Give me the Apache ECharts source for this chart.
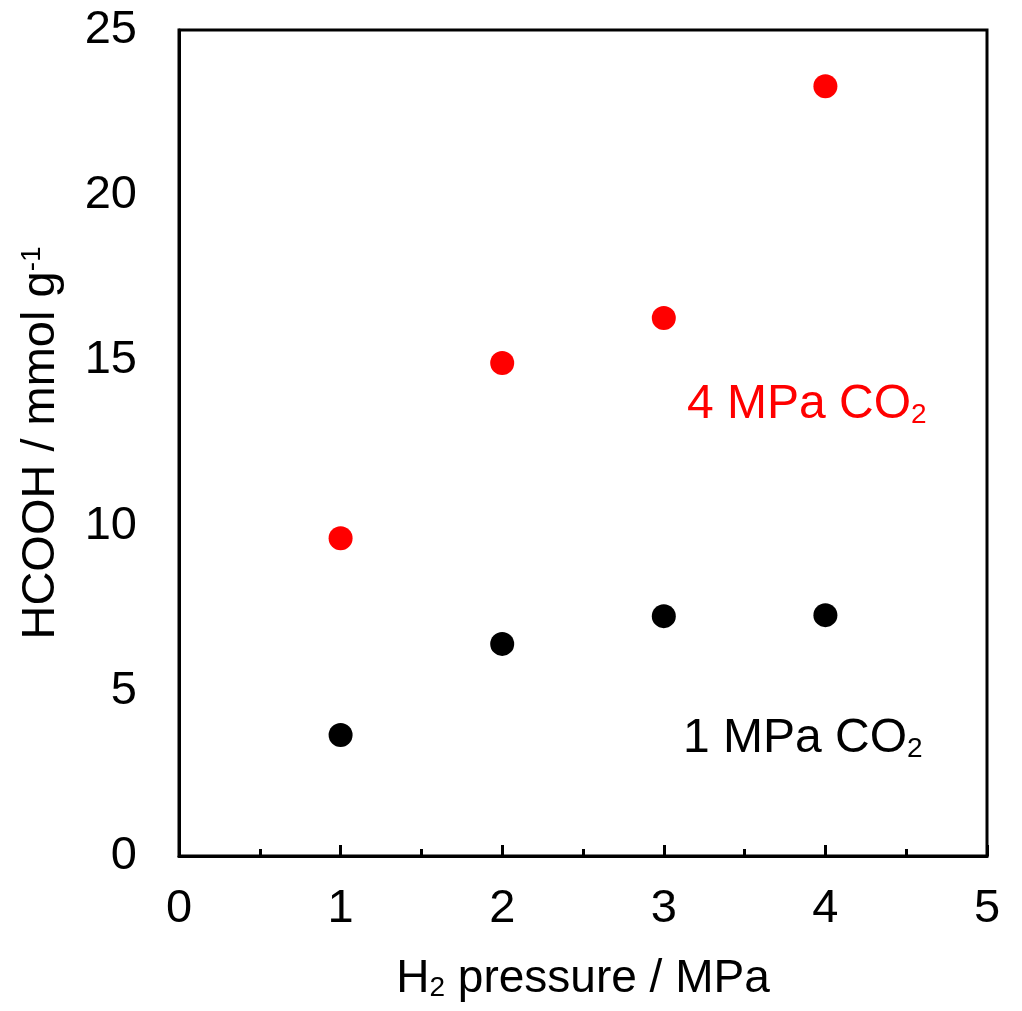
<!DOCTYPE html>
<html>
<head>
<meta charset="utf-8">
<script src="https://cdn.jsdelivr.net/npm/echarts@6/dist/echarts.min.js"></script>
<style>
html,body{margin:0;padding:0;background:#fff;}
#chart{width:1022px;height:1011px;}
</style>
</head>
<body>
<div id="chart"></div>
<script>
const h2Pressure = [1, 2, 3, 4];
const co2High = [9.62, 14.92, 16.28, 23.30];
const co2Low = [3.66, 6.42, 7.26, 7.29];
const xTicks = [0, 1, 2, 3, 4, 5];
const yTicks = [0, 5, 10, 15, 20, 25];

const FONT = '"Liberation Sans", Arial, sans-serif';
const chart = echarts.init(document.getElementById('chart'));

chart.setOption({
  animation: false,
  backgroundColor: '#fff',
  grid: { left: 179, top: 30, right: 35, bottom: 155, show: true, borderColor: '#000', borderWidth: 3, containLabel: false, outerBoundsMode: 'none' },
  xAxis: {
    type: 'value', min: 0, max: 5, interval: 1,
    axisLine: { show: true, lineStyle: { color: '#000', width: 3 } },
    axisTick: { show: true, inside: true, length: 11, lineStyle: { color: '#000', width: 3 } },
    minorTick: { show: true, splitNumber: 2, length: 7, lineStyle: { color: '#000', width: 3 } },
    splitLine: { show: false },
    axisLabel: { color: '#000', fontSize: 47, fontFamily: FONT, margin: 30,
      formatter: v => xTicks.includes(v) ? String(v) : '' },
    name: '{n|H}{s|2}{n| pressure / MPa}',
    nameLocation: 'middle', nameGap: 100,
    nameTextStyle: { rich: { n: { fontSize: 46, fontFamily: FONT, color: '#000' }, s: { fontSize: 28, fontFamily: FONT, color: '#000', verticalAlign: 'bottom' } } }
  },
  yAxis: {
    type: 'value', min: 0, max: 25, interval: 5,
    axisLine: { show: true, lineStyle: { color: '#000', width: 3 } },
    axisTick: { show: false },
    splitLine: { show: false },
    axisLabel: { color: '#000', fontSize: 47, fontFamily: FONT, margin: 42,
      formatter: v => yTicks.includes(v) ? String(v) : '' },
    name: '{n|HCOOH / mmol g}{p|-1}',
    nameLocation: 'middle', nameGap: 114, nameRotate: 90,
    nameTextStyle: { rich: { n: { fontSize: 47, fontFamily: FONT, color: '#000' }, p: { fontSize: 28, fontFamily: FONT, color: '#000', verticalAlign: 'top' } } }
  },
  graphic: [
    { type: 'text', left: 687, top: 381, style: { text: '{n|4 MPa CO}{s|2}', rich: { n: { fontSize: 48, fontFamily: FONT, fill: '#ff0000' }, s: { fontSize: 28, fontFamily: FONT, fill: '#ff0000', verticalAlign: 'bottom' } } } },
    { type: 'text', left: 683, top: 715, style: { text: '{n|1 MPa CO}{s|2}', rich: { n: { fontSize: 48, fontFamily: FONT, fill: '#000' }, s: { fontSize: 28, fontFamily: FONT, fill: '#000', verticalAlign: 'bottom' } } } }
  ],
  series: [
    { type: 'scatter', name: '4 MPa CO2', symbol: 'circle', symbolSize: 24, itemStyle: { color: '#ff0000', opacity: 1 },
      data: h2Pressure.map((x, i) => [x, co2High[i]]) },
    { type: 'scatter', name: '1 MPa CO2', symbol: 'circle', symbolSize: 24, itemStyle: { color: '#000', opacity: 1 },
      data: h2Pressure.map((x, i) => [x, co2Low[i]]) }
  ]
});
</script>
</body>
</html>
